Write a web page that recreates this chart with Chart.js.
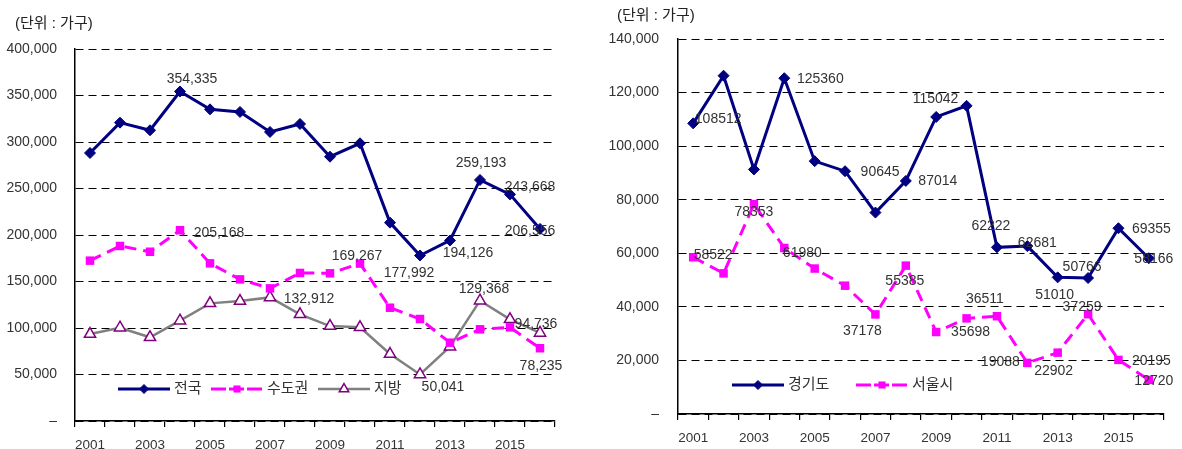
<!DOCTYPE html>
<html lang="ko">
<head>
<meta charset="utf-8">
<script src="https://cdn.jsdelivr.net/npm/chart.js@4"></script>
<style>
  body { margin: 0; background: #fff; }
  .panel { position: absolute; top: 0; width: 591px; height: 449px; }
  #left { left: 0; }
  #right { left: 591px; }
</style>
</head>
<body>
<div class="panel" id="left"><canvas id="chartLeft" width="591" height="449"></canvas></div>
<div class="panel" id="right"><canvas id="chartRight" width="591" height="449"></canvas></div>
<script>
const years = ['2001', '2002', '2003', '2004', '2005', '2006', '2007', '2008',
               '2009', '2010', '2011', '2012', '2013', '2014', '2015', '2016'];

// 전국 / 수도권 / 지방 (가구)
const nationwide = [288200, 320800, 312600, 354335, 335100, 332300, 310800, 319400,
                    284200, 298600, 213300, 177992, 194126, 259193, 243668, 206556];
const capitalArea = [172400, 188200, 182000, 205168, 169500, 152300, 142600, 159200,
                     158800, 169267, 121800, 109700, 84200, 98600, 100700, 78235];
const provinces = [93500, 100300, 90000, 107900, 126500, 129000, 132912, 114700,
                   102100, 100700, 72000, 50041, 79900, 129368, 109300, 94736];

// 경기도 / 서울시 (가구)
const gyeonggi = [108512, 126300, 91300, 125360, 94400, 90645, 75200, 87014,
                  110900, 115042, 62222, 62681, 51010, 50766, 69355, 58166];
const seoul = [58522, 52500, 78353, 61980, 54300, 47900, 37178, 55385,
               30600, 35698, 36511, 19088, 22902, 37259, 20195, 12720];

const FONT = "'Liberation Sans', 'Noto Sans CJK KR', sans-serif";
const TEXT = '#333';
const NAVY = '#000080';
const MAGENTA = '#ff00ff';

const commas = v => v.toLocaleString('en-US');

function navySeries(label, data) {
  return {
    label, data,
    borderColor: NAVY, backgroundColor: NAVY, borderWidth: 3,
    pointStyle: 'rectRot', pointRadius: 5.5, pointBorderWidth: 1,
    pointBackgroundColor: NAVY, pointBorderColor: NAVY
  };
}
function magentaSeries(label, data) {
  return {
    label, data,
    borderColor: MAGENTA, backgroundColor: MAGENTA, borderWidth: 3,
    borderDash: [12, 7],
    pointStyle: 'rect', pointRadius: 6, pointBorderWidth: 0,
    pointBackgroundColor: MAGENTA, pointBorderColor: MAGENTA
  };
}

// value labels, unit caption and an in-plot legend
const extras = {
  id: 'extras',
  afterDatasetsDraw(chart, args, opts) {
    const ctx = chart.ctx;
    ctx.save();
    ctx.font = '14px ' + FONT;
    ctx.fillStyle = TEXT;
    ctx.textAlign = 'center';
    ctx.textBaseline = 'middle';
    opts.valueLabels.forEach(([ds, i, dx, dy]) => {
      const pt = chart.getDatasetMeta(ds).data[i];
      ctx.fillText(opts.format(chart.data.datasets[ds].data[i]), pt.x + dx, pt.y + dy);
    });

    ctx.textAlign = 'left';
    ctx.font = '15px ' + FONT;
    ctx.fillStyle = '#222';
    ctx.fillText('(단위 : 가구)', opts.unit[0], opts.unit[1]);

    ctx.font = '15px ' + FONT;
    opts.legend.items.forEach(([ds, x]) => {
      const d = chart.data.datasets[ds];
      const y = opts.legend.y;
      ctx.strokeStyle = d.borderColor;
      ctx.lineWidth = d.borderWidth;
      ctx.setLineDash(d.borderDash ? [15, 3] : []);
      ctx.beginPath();
      ctx.moveTo(x, y);
      ctx.lineTo(x + 52, y);
      ctx.stroke();
      ctx.setLineDash([]);
      ctx.fillStyle = d.pointBackgroundColor;
      ctx.strokeStyle = d.pointBorderColor;
      ctx.lineWidth = d.pointBorderWidth;
      Chart.helpers.drawPoint(ctx, {
        pointStyle: d.pointStyle, radius: d.pointRadius - 1, rotation: 0,
        borderWidth: d.pointBorderWidth
      }, x + 26, y);
      ctx.fillStyle = TEXT;
      ctx.fillText(d.label, x + 56, y);
    });
    ctx.restore();
  }
};

function buildOptions(o) {
  return {
    responsive: false,
    animation: false,
    devicePixelRatio: 1,
    layout: { padding: { left: 0, right: o.padRight, top: o.padTop, bottom: 0 } },
    plugins: {
      legend: { display: false },
      tooltip: { enabled: false },
      extras: o.extras
    },
    scales: {
      x: {
        offset: true,
        grid: { offset: true, drawOnChartArea: false, drawTicks: true, tickLength: 6, color: '#000', lineWidth: 1.2 },
        border: { color: '#000', width: 1.5 },
        ticks: {
          autoSkip: false, maxRotation: 0, padding: o.xPad,
          color: TEXT, font: { family: FONT, size: 13.5 },
          callback: (v, i) => (i % 2 === 0 ? years[i] : '')
        },
        afterFit: s => { s.height = o.xHeight; }
      },
      y: {
        min: 0, max: o.max,
        grid: { color: '#000', lineWidth: 1, drawTicks: false },
        border: { color: '#000', width: 1.5, dash: [8, 5] },
        ticks: {
          stepSize: o.step, padding: o.yPad,
          color: TEXT, font: { family: FONT, size: 14 },
          callback: v => (v === 0 ? '–' : commas(v))
        },
        afterFit: s => { s.width = o.yWidth; }
      }
    }
  };
}

new Chart(document.getElementById('chartLeft'), {
  type: 'line',
  data: {
    labels: years,
    datasets: [
      navySeries('전국', nationwide),
      magentaSeries('수도권', capitalArea),
      {
        label: '지방', data: provinces,
        borderColor: '#808080', borderWidth: 2.5,
        pointStyle: 'triangle', pointRadius: 6.5, pointBorderWidth: 1.5,
        pointBackgroundColor: '#fff', pointBorderColor: '#800080'
      }
    ]
  },
  options: buildOptions({
    max: 400000, step: 50000, padTop: 49, padRight: 36,
    yWidth: 75, yPad: 18, xHeight: 28, xPad: 10,
    extras: {
      format: commas,
      unit: [15, 24],
      legend: { y: 389, items: [[0, 118], [1, 211], [2, 318]] },
      valueLabels: [
        [0, 3, 12, -12], [0, 11, -11, 18], [0, 12, 18, 13], [0, 13, 1, -17],
        [0, 14, 20, -7], [0, 15, -10, 2],
        [1, 3, 39, 3], [1, 9, -3, -7], [1, 15, 1, 18],
        [2, 6, 39, 2], [2, 11, 23, 13], [2, 13, 4, -12], [2, 15, -4, -9]
      ]
    }
  }),
  plugins: [extras]
});

new Chart(document.getElementById('chartRight'), {
  type: 'line',
  data: {
    labels: years,
    datasets: [
      navySeries('경기도', gyeonggi),
      magentaSeries('서울시', seoul)
    ]
  },
  options: buildOptions({
    max: 140000, step: 20000, padTop: 39, padRight: 18,
    yWidth: 87, yPad: 19, xHeight: 35, xPad: 10,
    extras: {
      format: v => String(v),
      unit: [26, 16],
      legend: { y: 385, items: [[0, 141], [1, 265]] },
      valueLabels: [
        [0, 0, 25, -4], [0, 3, 36, 1], [0, 5, 35, 1], [0, 7, 32, 0], [0, 9, -31, -7],
        [0, 10, -6, -21], [0, 11, 10, -3], [0, 12, -3, 18], [0, 13, -6, -11],
        [0, 14, 33, 1], [0, 15, 5, 1],
        [1, 0, 20, -2], [1, 2, 0, 8], [1, 3, 18, 5], [1, 6, -13, 17], [1, 7, -1, 15],
        [1, 9, 4, 14], [1, 10, -12, -17], [1, 11, -27, -1], [1, 12, -4, 18],
        [1, 13, -6, -7], [1, 14, 33, 1], [1, 15, 5, 1]
      ]
    }
  }),
  plugins: [extras]
});
</script>
</body>
</html>
